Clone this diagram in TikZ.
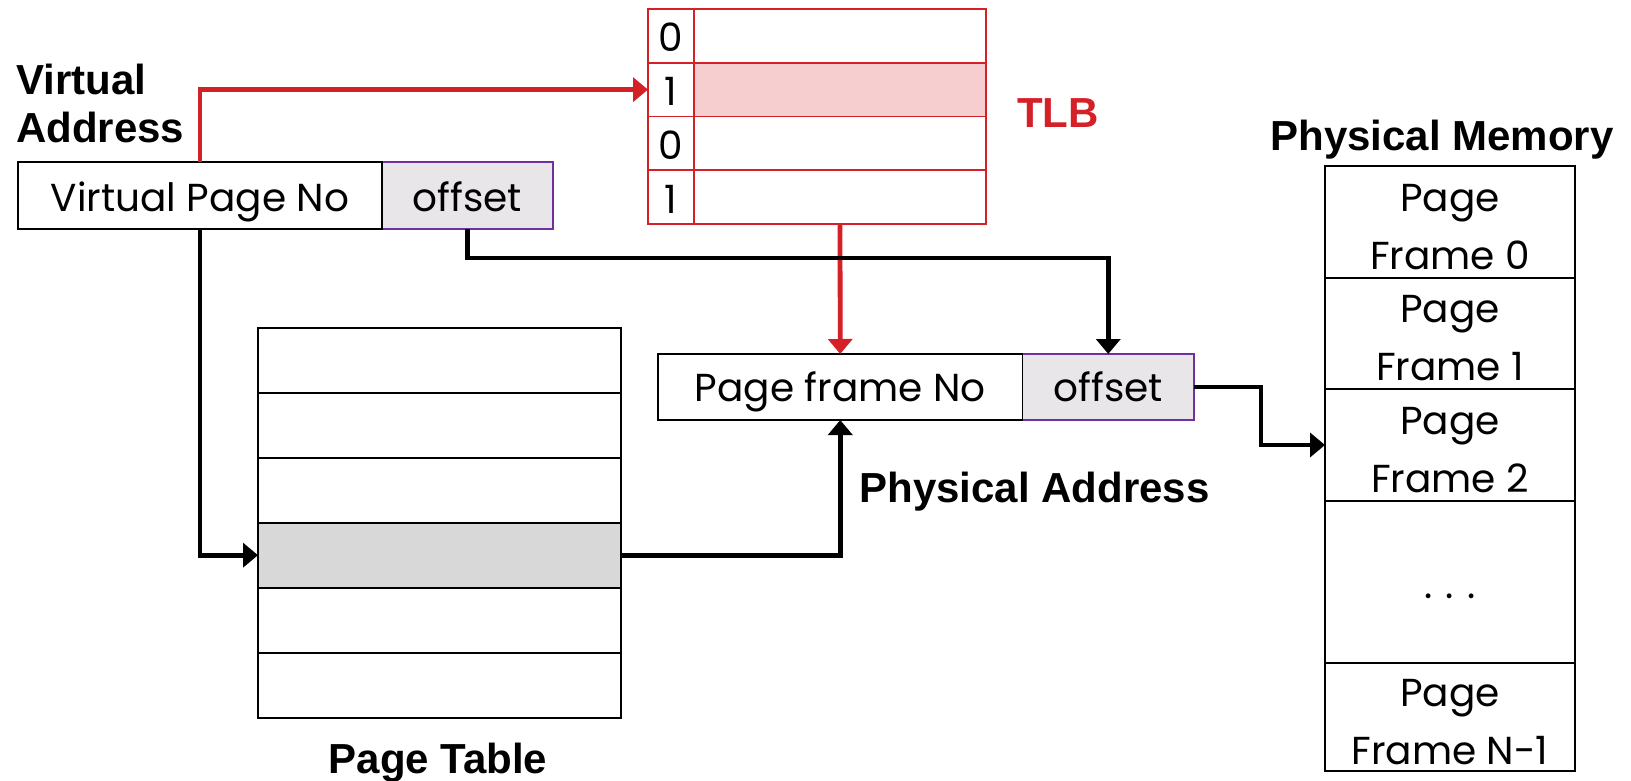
\documentclass[tikz,border=0pt]{standalone}
\usepackage{fontspec}
\setmainfont{Poppins}
\newfontfamily\labfam{Liberation Sans}
\usetikzlibrary{arrows.meta}
\definecolor{redc}{RGB}{212,32,39}
\definecolor{pinkc}{RGB}{246,206,208}
\definecolor{offgray}{RGB}{232,230,232}
\definecolor{ptgray}{RGB}{216,216,216}
\definecolor{purp}{RGB}{112,48,160}
\newcommand\regfont{\fontsize{39}{58}\selectfont}
\newcommand\labfont{\labfam\bfseries\fontsize{42}{48}\selectfont}
\tikzset{
  cell/.style={draw=black, line width=1.8pt, inner sep=0pt, outer sep=0pt, font=\regfont, text height=40pt, text depth=8pt},
  twoline/.style={cell, align=center, text height=94pt, text depth=0pt},
  tcell/.style={cell, draw=redc},
  lab/.style={font=\labfont, inner sep=0pt},
  conn/.style={line width=4.8pt, -{Triangle[width=24pt,length=15pt]}},
  redconn/.style={conn, draw=redc},
}
\begin{document}
\begin{tikzpicture}[x=1pt,y=-1pt]
\useasboundingbox[fill=white] (0,0) rectangle (1631,781);

% virtual address
\node[cell, fill=offgray, draw=purp, minimum width=171, minimum height=67] (voff) at (467.5,195.5) {offset};
\node[cell, minimum width=364, minimum height=67] (vpn) at (200,195.5) {Virtual Page No};
\node[lab, anchor=base west] (va1) at (16,95) {Virtual};
\node[lab, anchor=base west] (va2) at (16,143) {Address};

% TLB
\foreach \i/\v in {0/0,1/1,2/0,3/1}{
  \node[tcell, minimum width=292, minimum height=53.75] (td\i) at (840,{35.875+53.75*\i}) {};
  \node[tcell, minimum width=46, minimum height=53.75] (tv\i) at (671,{35.875+53.75*\i}) {\v};
}
\node[tcell, fill=pinkc, minimum width=292, minimum height=53.75] (td1b) at (td1) {};
\node[lab, text=redc, anchor=base] (tlb) at (1058,128) {TLB};

% page table
\node[cell, minimum width=363, minimum height=65] (pt0) at (439.5,360.2) {};
\node[cell, minimum width=363, minimum height=65] (pt1) at (439.5,425.2) {};
\node[cell, minimum width=363, minimum height=65] (pt2) at (439.5,490.2) {};
\node[cell, fill=ptgray, minimum width=363, minimum height=65] (pt3) at (439.5,555.2) {};
\node[cell, minimum width=363, minimum height=65] (pt4) at (439.5,620.2) {};
\node[cell, minimum width=363, minimum height=65] (pt5) at (439.5,685.2) {};
\node[lab, anchor=base] (ptl) at (438,773) {Page Table};

% physical address
\node[cell, fill=offgray, draw=purp, minimum width=171.5, minimum height=66, text height=37pt] (poff) at (1108.25,387) {offset};
\node[cell, minimum width=364.5, minimum height=66, text height=37pt] (pfn) at (840.25,387) {Page frame No};
\node[lab, anchor=base] (pal) at (1034.5,502) {Physical Address};

% physical memory
\node[lab, anchor=base] (pml) at (1442,151) {Physical Memory};
\node[twoline, minimum width=250, minimum height=112] (pm0) at (1450,222) {Page\\Frame 0};
\node[twoline, minimum width=250, minimum height=111] (pm1) at (1450,333.5) {Page\\Frame 1};
\node[twoline, minimum width=250, minimum height=112] (pm2) at (1450,445) {Page\\Frame 2};
\node[cell, minimum width=250, minimum height=162, text height=32pt, text depth=0pt] (pm3) at (1450,582) {.\,\,.\,\,.};
\node[twoline, minimum width=250, minimum height=108] (pm4) at (1450,717) {Page\\Frame N-1};

% connectors
\draw[redconn] (vpn.north) |- (tv1.west);
\draw[redconn] (td3.south) -- (pfn.north);
\coordinate (j1) at (467.5,258);
\draw[conn] (voff.south) -- (j1) -| (poff.north);
\draw[conn] (vpn.south) |- (pt3.west);
\draw[conn] (pt3.east) -| (pfn.south);
\coordinate (j2) at (1261,445);
\draw[conn] (poff.east) -| (j2) -- (pm2.west);
\end{tikzpicture}
\end{document}
